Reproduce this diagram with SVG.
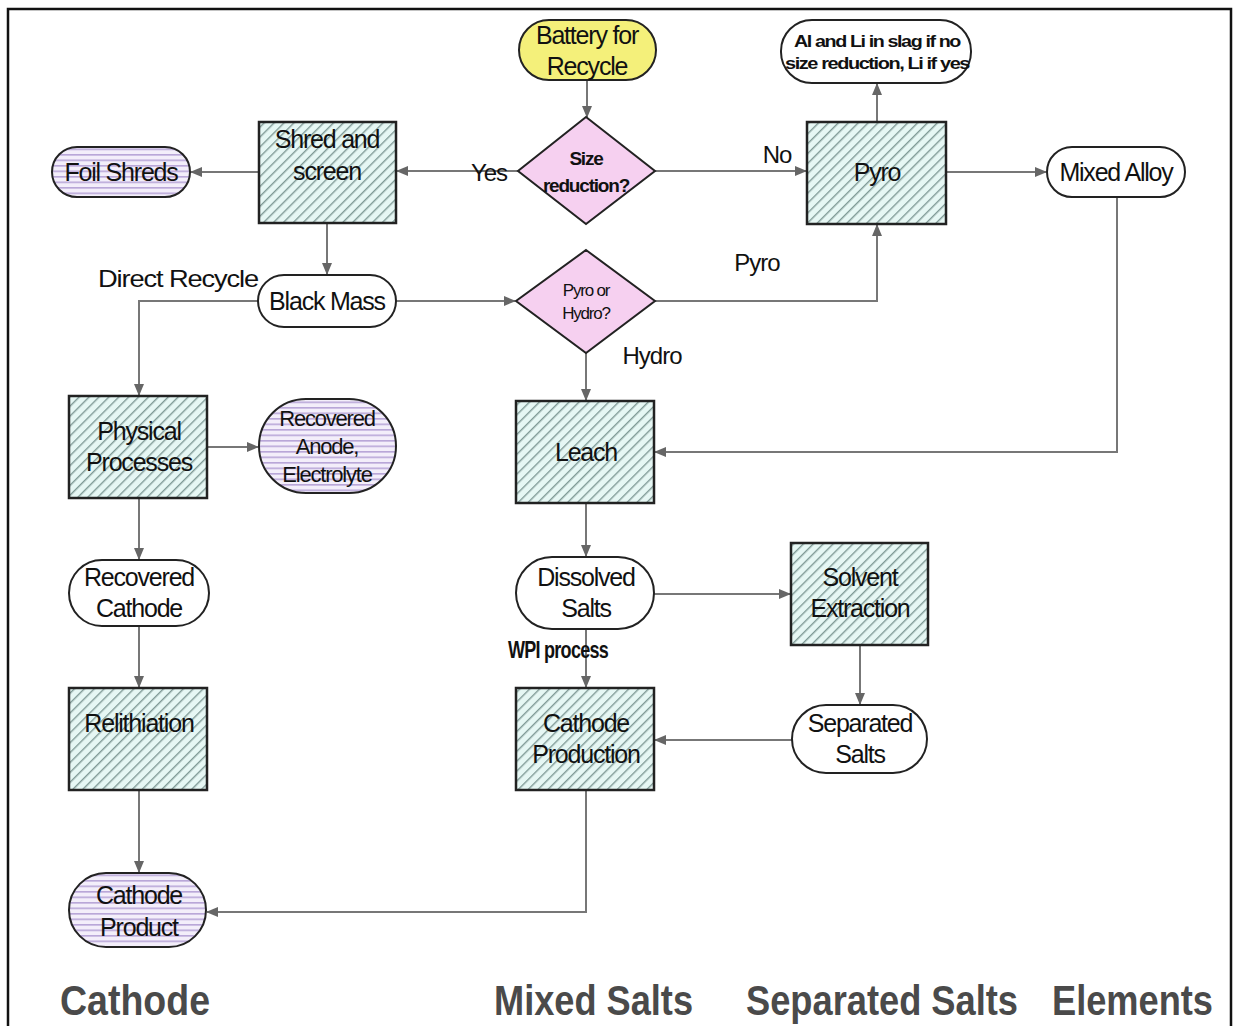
<svg xmlns="http://www.w3.org/2000/svg" width="1242" height="1026" viewBox="0 0 1242 1026">
<style>
.t{font-family:"Liberation Sans",Arial,sans-serif;fill:#111;text-anchor:middle;letter-spacing:-1.2px}
.f25{font-size:25px}
.f22{font-size:22px}
.f19{font-size:19px}
.f17{font-size:17px}
.lbl{font-family:"Liberation Sans",Arial,sans-serif;fill:#111;font-size:24px;letter-spacing:-1px}
.big{font-family:"Liberation Sans",Arial,sans-serif;fill:#4a4a4a;font-size:42px;font-weight:bold}
.box{fill:url(#hatch);stroke:#222;stroke-width:2.5}
.pill{fill:#fff;stroke:#222;stroke-width:2}
.purp{fill:url(#stripe);stroke:#222;stroke-width:2}
.dia{fill:#f6d0f0;stroke:#222;stroke-width:2}
.c{fill:none;stroke:#777;stroke-width:2;marker-end:url(#ah)}
</style>
<defs>
<pattern id="hatch" patternUnits="userSpaceOnUse" width="7" height="7" patternTransform="rotate(-45)">
<rect width="7" height="7" fill="#e6f7f4"/>
<rect width="7" height="1.4" fill="#7f9a96"/>
</pattern>
<pattern id="stripe" patternUnits="userSpaceOnUse" width="6" height="5.5">
<rect width="6" height="5.5" fill="#f3eefa"/>
<rect width="6" height="1.6" fill="#b8a6d8"/>
</pattern>
<marker id="ah" markerWidth="12" markerHeight="10" refX="11" refY="5" orient="auto" markerUnits="userSpaceOnUse">
<path d="M0,0 L12,5 L0,10 Z" fill="#666"/>
</marker>
</defs>
<rect x="0" y="0" width="1242" height="1026" fill="#fff"/>
<path d="M8,1030 V9 H1231 V1030" fill="none" stroke="#111" stroke-width="2.5"/>

<g id="connectors">
<path class="c" d="M587,80 V117"/>
<path class="c" d="M518,171 H397"/>
<path class="c" d="M655,171 H806"/>
<path class="c" d="M259,172 H191"/>
<path class="c" d="M327,223 V274"/>
<path class="c" d="M877,122 V84"/>
<path class="c" d="M946,172 H1046"/>
<path class="c" d="M1117,197 V452 H655"/>
<path class="c" d="M396,301 H515"/>
<path class="c" d="M655,301 H877 V225"/>
<path class="c" d="M586,353 V400"/>
<path class="c" d="M258,301 H139 V395"/>
<path class="c" d="M207,447 H258"/>
<path class="c" d="M139,498 V559"/>
<path class="c" d="M139,626 V687"/>
<path class="c" d="M139,790 V872"/>
<path class="c" d="M586,503 V556"/>
<path class="c" d="M654,594 H790"/>
<path class="c" d="M586,629 V687"/>
<path class="c" d="M860,645 V704"/>
<path class="c" d="M792,740 H655"/>
<path class="c" d="M586,790 V912 H207"/>
</g>

<g id="battery">
<rect x="519" y="20" width="137" height="60" rx="30" fill="#f4f07a" stroke="#222" stroke-width="2"/>
<text class="t f25" x="587" y="44">Battery for</text>
<text class="t f25" x="587" y="75">Recycle</text>
</g>
<g id="size-reduction">
<polygon class="dia" points="586,117 655,171 586,224 518,171"/>
<text class="t f19" x="586" y="165" font-weight="bold">Size</text>
<text class="t f19" x="586" y="192" font-weight="bold">reduction?</text>
</g>
<g id="shred">
<rect class="box" x="259" y="122" width="137" height="101"/>
<text class="t f25" x="327" y="148">Shred and</text>
<text class="t f25" x="327" y="180">screen</text>
</g>
<g id="foil">
<rect class="purp" x="52" y="147" width="138" height="50" rx="25"/>
<text class="t f25" x="121" y="181">Foil Shreds</text>
</g>
<g id="pyro">
<rect class="box" x="807" y="122" width="139" height="102"/>
<text class="t f25" x="877" y="181">Pyro</text>
</g>
<g id="slag">
<rect class="pill" x="781" y="20" width="190" height="63" rx="31"/>
<text class="t f17" x="877" y="47" font-weight="bold" textLength="166" lengthAdjust="spacingAndGlyphs">Al and Li in slag if no</text>
<text class="t f17" x="877" y="69" font-weight="bold" textLength="184" lengthAdjust="spacingAndGlyphs">size reduction, Li if yes</text>
</g>
<g id="mixed-alloy">
<rect class="pill" x="1047" y="147" width="138" height="50" rx="25"/>
<text class="t f25" x="1116" y="181">Mixed Alloy</text>
</g>
<g id="black-mass">
<rect class="pill" x="258" y="275" width="138" height="52" rx="26"/>
<text class="t f25" x="327" y="310">Black Mass</text>
</g>
<g id="pyro-hydro">
<polygon class="dia" points="586,250 655,301 586,353 516,301"/>
<text class="t" x="586" y="296" font-size="17">Pyro or</text>
<text class="t" x="586" y="319" font-size="17">Hydro?</text>
</g>
<g id="physical">
<rect class="box" x="69" y="396" width="138" height="102"/>
<text class="t f25" x="139" y="440">Physical</text>
<text class="t f25" x="139" y="471">Processes</text>
</g>
<g id="anode">
<rect class="purp" x="259" y="399" width="137" height="94" rx="47"/>
<text class="t f22" x="327" y="426">Recovered</text>
<text class="t f22" x="327" y="454">Anode,</text>
<text class="t f22" x="327" y="482">Electrolyte</text>
</g>
<g id="leach">
<rect class="box" x="516" y="401" width="138" height="102"/>
<text class="t f25" x="586" y="461">Leach</text>
</g>
<g id="rec-cathode">
<rect class="pill" x="69" y="560" width="140" height="66" rx="33"/>
<text class="t f25" x="139" y="586">Recovered</text>
<text class="t f25" x="139" y="617">Cathode</text>
</g>
<g id="dissolved">
<rect class="pill" x="516" y="557" width="138" height="72" rx="36"/>
<text class="t f25" x="586" y="586">Dissolved</text>
<text class="t f25" x="586" y="617">Salts</text>
</g>
<g id="solvent">
<rect class="box" x="791" y="543" width="137" height="102"/>
<text class="t f25" x="860" y="586">Solvent</text>
<text class="t f25" x="860" y="617">Extraction</text>
</g>
<g id="relith">
<rect class="box" x="69" y="688" width="138" height="102"/>
<text class="t f25" x="139" y="732">Relithiation</text>
</g>
<g id="cathode-prod">
<rect class="box" x="516" y="688" width="138" height="102"/>
<text class="t f25" x="586" y="732">Cathode</text>
<text class="t f25" x="586" y="763">Production</text>
</g>
<g id="separated">
<rect class="pill" x="792" y="705" width="135" height="68" rx="34"/>
<text class="t f25" x="860" y="732">Separated</text>
<text class="t f25" x="860" y="763">Salts</text>
</g>
<g id="cathode-product">
<rect class="purp" x="69" y="873" width="137" height="74" rx="37"/>
<text class="t f25" x="139" y="904">Cathode</text>
<text class="t f25" x="139" y="936">Product</text>
</g>

<g id="labels">
<text class="lbl" x="489" y="181" text-anchor="middle">Yes</text>
<text class="lbl" x="777" y="163" text-anchor="middle">No</text>
<text class="lbl" x="757" y="271" text-anchor="middle">Pyro</text>
<text class="lbl" x="652" y="364" text-anchor="middle">Hydro</text>
<text class="lbl" x="98" y="287" textLength="160" lengthAdjust="spacingAndGlyphs">Direct Recycle</text>
<text class="lbl" x="508" y="658" font-size="15" font-weight="bold" textLength="100" lengthAdjust="spacingAndGlyphs">WPI process</text>
<text class="big" x="60" y="1015" textLength="150" lengthAdjust="spacingAndGlyphs">Cathode</text>
<text class="big" x="494" y="1015" textLength="199" lengthAdjust="spacingAndGlyphs">Mixed Salts</text>
<text class="big" x="746" y="1015" textLength="272" lengthAdjust="spacingAndGlyphs">Separated Salts</text>
<text class="big" x="1052" y="1015" textLength="161" lengthAdjust="spacingAndGlyphs">Elements</text>
</g>
</svg>
